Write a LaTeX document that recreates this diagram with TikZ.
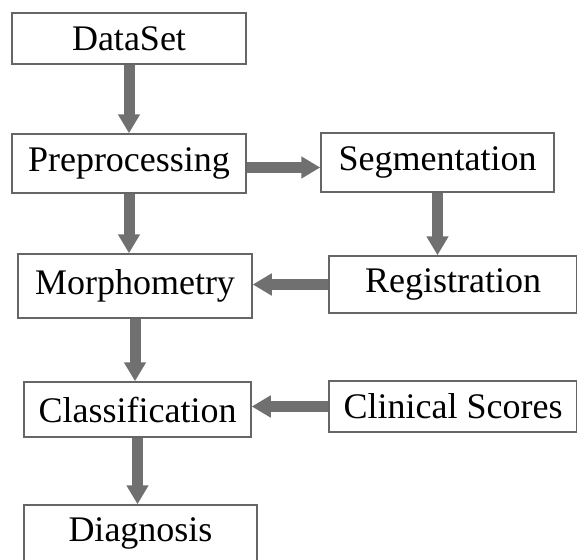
\documentclass[tikz,border=0pt]{standalone}
\usepackage{fontspec}
\setmainfont{Liberation Serif}
\usepackage{xcolor}
\usepackage{tikz}
\usetikzlibrary{arrows.meta, positioning, calc}
\definecolor{BoxLine}{RGB}{102, 102, 102}
\definecolor{FlowGray}{RGB}{112, 112, 112}

\tikzset{
  stagebox/.style={
    draw=BoxLine,
    fill=white,
    line width=0.75pt,
    inner sep=0pt,
    font=\fontsize{18}{20}\selectfont
  },
  flow/.style={
    draw=FlowGray,
    line width=5.5pt,
    -{Triangle[length=9.5pt, width=10.5pt]}
  }
}

\begin{document}
\begin{tikzpicture}[x=0.5pt, y=-0.5pt]
        \useasboundingbox (0,0) rectangle (577,559);
        \clip (0,0) rectangle (577,559);

        % left column
        \node[stagebox, minimum width=117pt, minimum height=25.5pt] (dataset) at (129,38.5) {DataSet};
        \node[stagebox, minimum width=117pt, minimum height=29.5pt] (prep) at (129,163.5) {Preprocessing};
        \node[stagebox, minimum width=117pt, minimum height=32pt] (morph) at (135,286) {Morphometry};
        \node[stagebox, minimum width=113.5pt, minimum height=27.5pt] (class) at (137.5,409.5) {Classification};
        \node[stagebox, minimum width=116.5pt, minimum height=28pt] (diag) at (140.5,533) {Diagnosis};

        % right column
        \node[stagebox, minimum width=116.5pt, minimum height=29.5pt] (seg) at (437.5,162.5) {Segmentation};
        \node[stagebox, minimum width=124pt, minimum height=28.5pt] (reg) at (453,284.5) {Registration};
        \node[stagebox, minimum width=124pt, minimum height=25.5pt] (clin) at (453,406.5) {Clinical Scores};

        % connectors
        \draw[flow] (dataset.south) -- (dataset.south |- prep.north);
        \draw[flow] ([yshift=-2pt]prep.east) -- ([yshift=-2pt]prep.east -| seg.west);
        \draw[flow] (prep.south) -- (prep.south |- morph.north);
        \draw[flow] (seg.south) -- (seg.south |- reg.north);
        \draw[flow] (reg.west) -- (reg.west -| morph.east);
        \draw[flow] (morph.south) -- (morph.south |- class.north);
        \draw[flow] (clin.west) -- (clin.west -| class.east);
        \draw[flow] (class.south) -- (class.south |- diag.north);
      \end{tikzpicture}
\end{document}
